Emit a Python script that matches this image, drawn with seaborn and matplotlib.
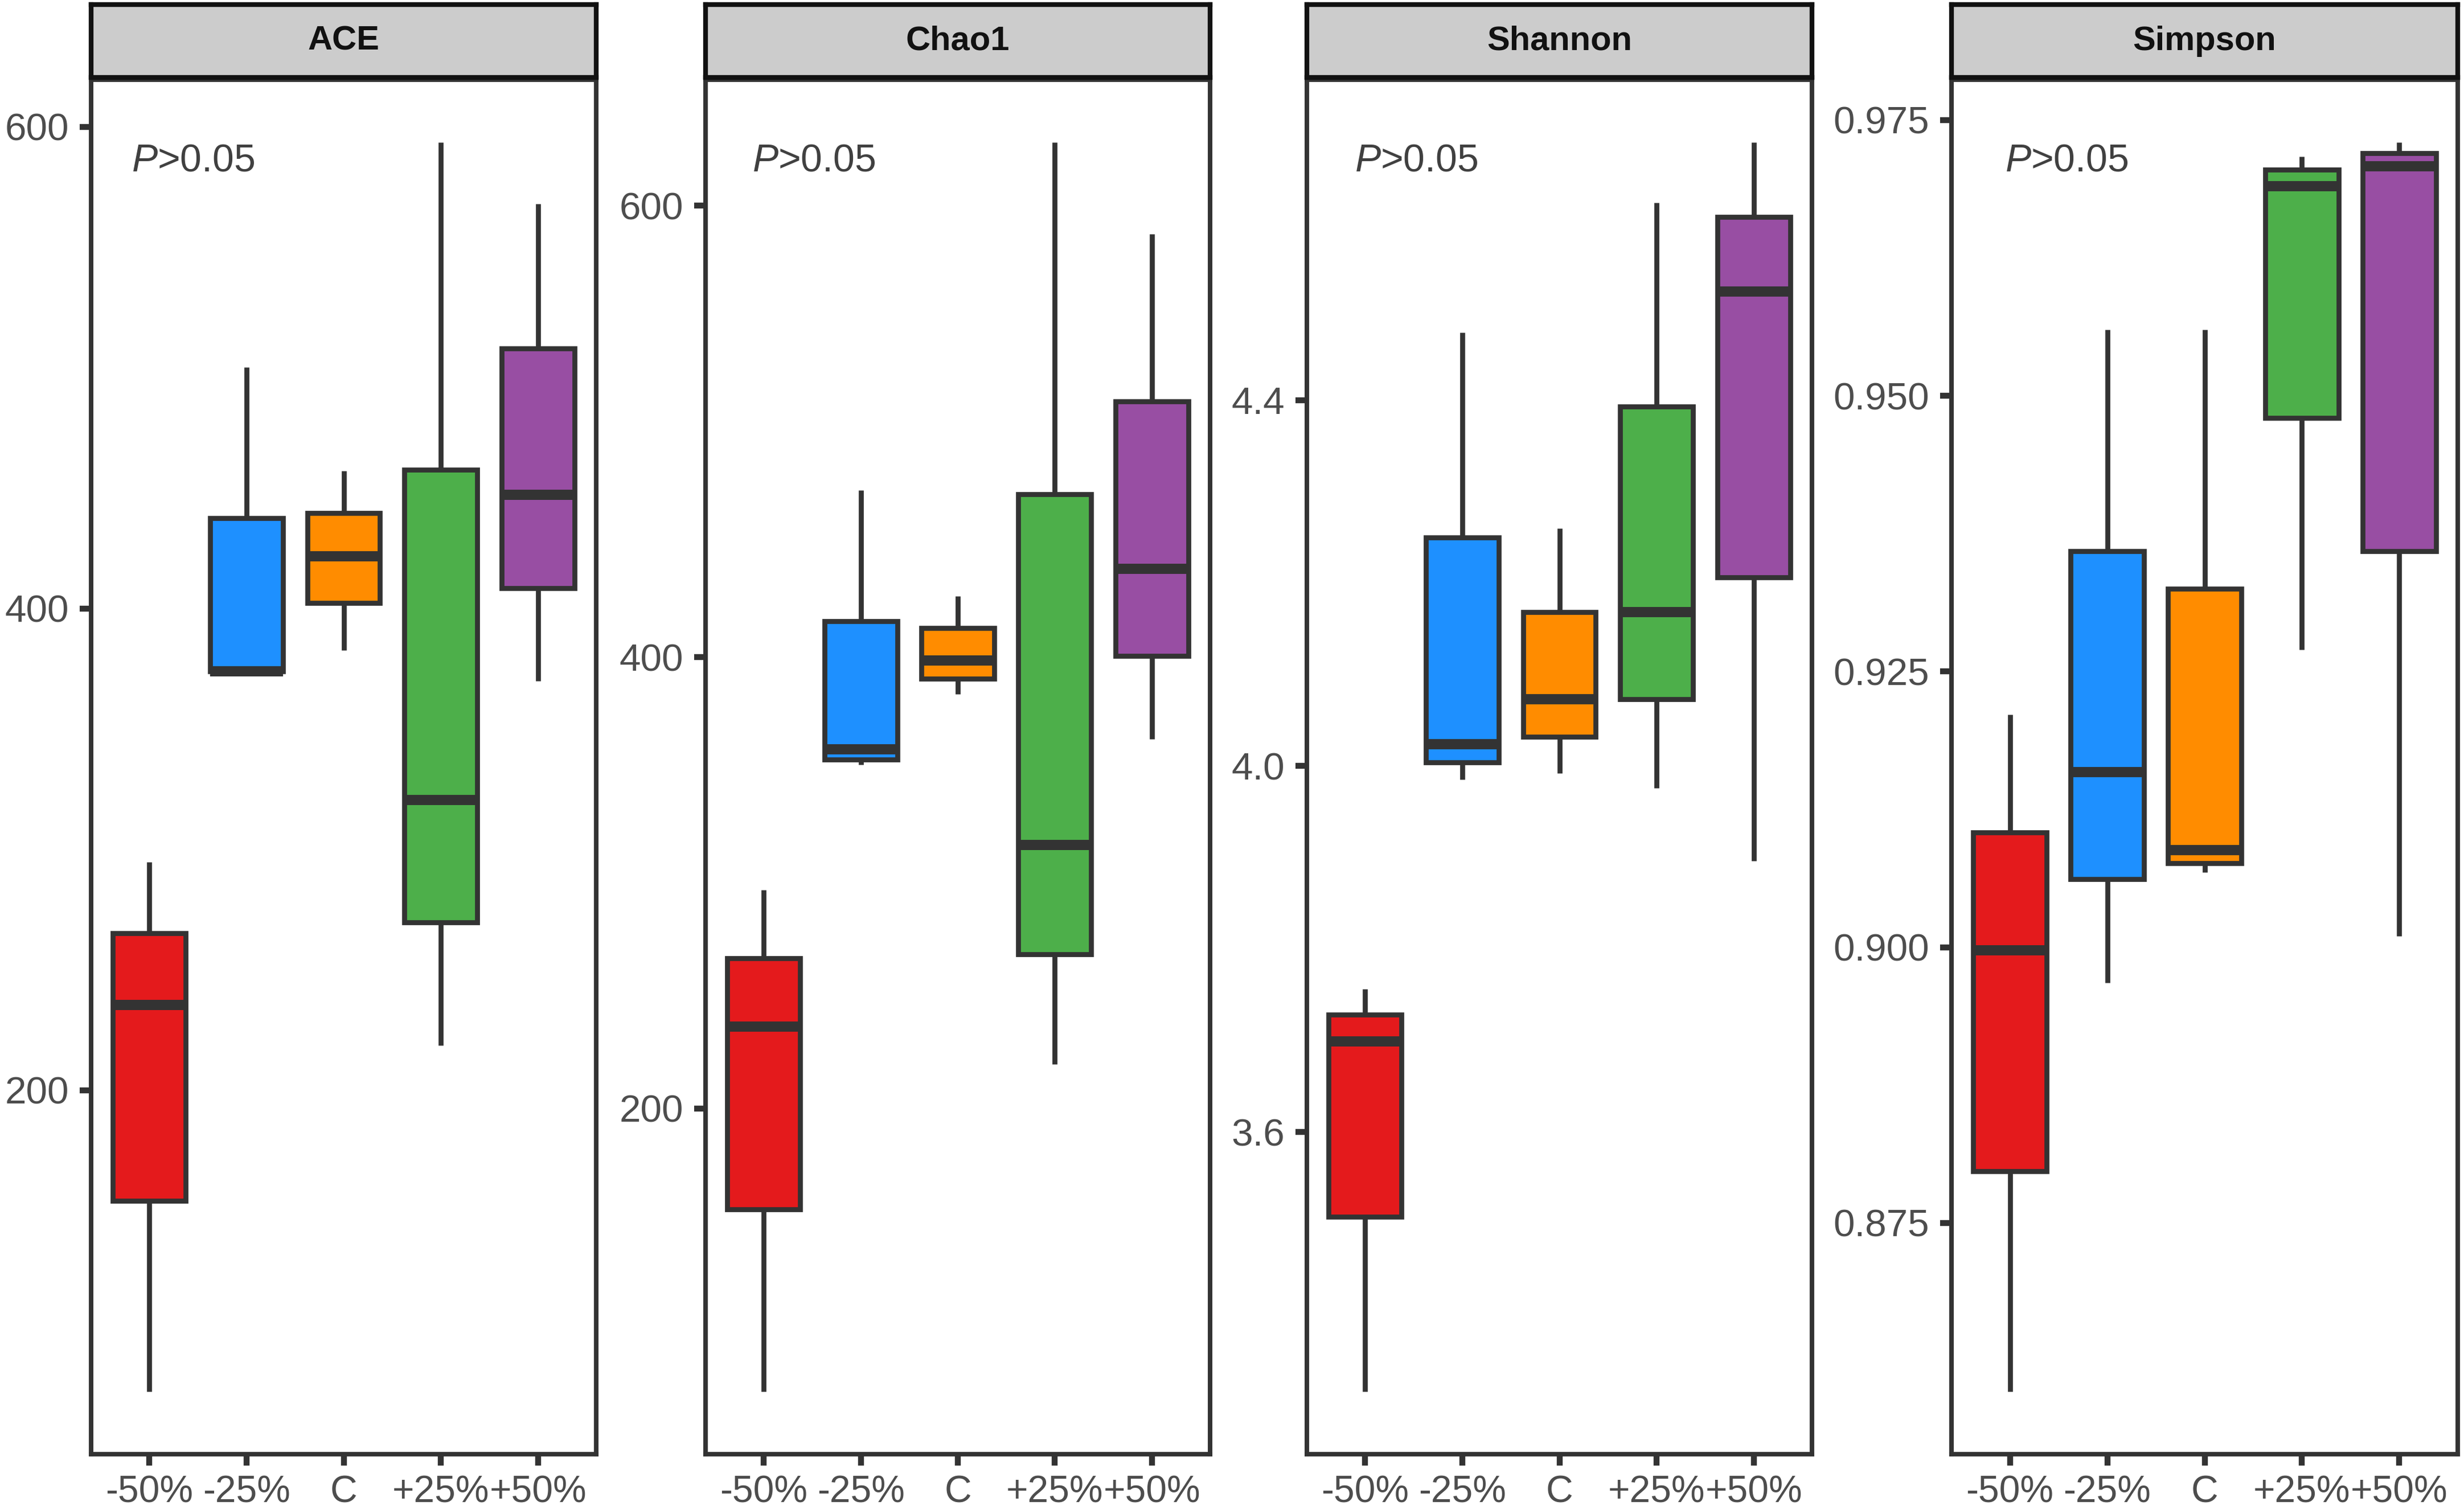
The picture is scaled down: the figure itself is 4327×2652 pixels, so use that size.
import numpy as np
import pandas as pd
import seaborn as sns
import matplotlib
matplotlib.use("Agg")
import matplotlib.pyplot as plt
from matplotlib.ticker import FormatStrFormatter

# ---------------- data (five-number summaries) ----------------
groups = ["-50%", "-25%", "C", "+25%", "+50%"]
palette = ["#E41A1C", "#1E90FF", "#FF8C00", "#4DAF4A", "#984EA3"]
metrics = ["ACE", "Chao1", "Shannon", "Simpson"]

# each inner list: min, Q1, median, Q3, max
ace = [
    [74.8, 154.1, 235.3, 265.1, 294.7],
    [374.0, 374.0, 374.0, 437.6, 500.2],
    [382.6, 402.4, 421.6, 439.6, 457.2],
    [218.6, 269.7, 320.4, 457.6, 593.6],
    [370.0, 408.4, 447.2, 508.0, 568.0],
]
chao1 = [
    [74.4, 155.3, 236.2, 266.6, 296.9],
    [352.2, 354.7, 359.0, 416.0, 473.9],
    [383.5, 390.4, 398.5, 413.0, 427.0],
    [219.5, 268.3, 316.8, 472.2, 628.2],
    [363.7, 400.6, 439.1, 513.2, 587.6],
]
shannon = [
    [3.316, 3.507, 3.699, 3.728, 3.756],
    [3.985, 4.004, 4.024, 4.250, 4.474],
    [3.992, 4.032, 4.073, 4.168, 4.260],
    [3.976, 4.073, 4.168, 4.393, 4.616],
    [3.896, 4.206, 4.519, 4.600, 4.682],
]
simpson = [
    [0.8597, 0.8797, 0.8997, 0.9104, 0.9211],
    [0.8968, 0.9062, 0.9159, 0.9359, 0.9560],
    [0.9068, 0.9076, 0.9088, 0.9325, 0.9560],
    [0.9270, 0.9480, 0.9690, 0.9705, 0.9717],
    [0.9010, 0.9359, 0.9708, 0.9720, 0.9730],
]
yticks = {
    "ACE": [200, 400, 600],
    "Chao1": [200, 400, 600],
    "Shannon": [3.6, 4.0, 4.4],
    "Simpson": [0.875, 0.900, 0.925, 0.950, 0.975],
}
yfmt = {"ACE": "%d", "Chao1": "%d", "Shannon": "%.1f", "Simpson": "%.3f"}
p_label = r"$P$>0.05"

# ---------------- long-form table ----------------
rows = []
for m, vals in zip(metrics, [ace, chao1, shannon, simpson]):
    for g, v in zip(groups, vals):
        for x in v:
            rows.append({"metric": m, "group": g, "value": x})
df = pd.DataFrame(rows)

# ---------------- style ----------------
sns.set_theme(style="white")
plt.rcParams["font.family"] = ["Liberation Sans", "DejaVu Sans"]
plt.rcParams["mathtext.fontset"] = "custom"
plt.rcParams["mathtext.it"] = "Liberation Sans:italic"
plt.rcParams["mathtext.rm"] = "Liberation Sans"

W, H = 4327, 2652
fig = plt.figure(figsize=(W / 300, H / 300), dpi=300)
fig.patch.set_facecolor("white")

lefts_px = [160, 1239, 2295, 3427]
widths_px = [887, 886, 887, 889]
ax_top_px, ax_bot_px = 140, 2554
strip_top_px, strip_bot_px = 8, 136
p_x = [0.080, 0.093, 0.095, 0.106]

edge = "#333333"
for i, m in enumerate(metrics):
    l = lefts_px[i] / W
    w = widths_px[i] / W
    ax = fig.add_axes([l, 1 - ax_bot_px / H, w, (ax_bot_px - ax_top_px) / H])
    sub = df[df["metric"] == m]
    sns.boxplot(
        data=sub, x="group", y="value", order=groups, hue="group",
        hue_order=groups, palette=palette, legend=False, width=0.75,
        whis=(0, 100), showcaps=False, fliersize=0, linewidth=2.1,
        linecolor=edge, saturation=1, ax=ax,
        medianprops={"linewidth": 4.3, "solid_capstyle": "butt"},
        whiskerprops={"linewidth": 2.1, "solid_capstyle": "butt"},
        boxprops={"linewidth": 2.1},
    )
    vmin, vmax = sub["value"].min(), sub["value"].max()
    pad = 0.05 * (vmax - vmin)
    ax.set_ylim(vmin - pad, vmax + pad)
    ax.set_xlim(-0.6, len(groups) - 0.4)
    ax.set_yticks(yticks[m])
    ax.yaxis.set_major_formatter(FormatStrFormatter(yfmt[m]))
    ax.set_xlabel("")
    ax.set_ylabel("")
    ax.set_facecolor("white")
    for s in ax.spines.values():
        s.set_visible(True)
        s.set_color(edge)
        s.set_linewidth(1.9)
    ax.tick_params(axis="both", which="major", direction="out", length=4.9,
                   width=2.5, color=edge, labelcolor="#4D4D4D", labelsize=16.2,
                   bottom=True, left=True)
    ax.tick_params(axis="y", pad=4.5)
    ax.tick_params(axis="x", pad=3.8, labelsize=15.8)
    ax.text(p_x[i], 0.9337, p_label, transform=ax.transAxes, ha="left",
            va="baseline", fontsize=16.3, color="#404040")

    # facet strip
    sax = fig.add_axes([l, 1 - strip_bot_px / H, w, (strip_bot_px - strip_top_px) / H])
    sax.set_facecolor("#CCCCCC")
    sax.set_xticks([])
    sax.set_yticks([])
    for s in sax.spines.values():
        s.set_visible(True)
        s.set_color("#111111")
        s.set_linewidth(2.0)
    sax.text(0.5, 0.5, m, transform=sax.transAxes, ha="center", va="center",
             fontsize=14.3, fontweight="bold", color="#111111")

fig.savefig("out.png", dpi=300, facecolor="white")
